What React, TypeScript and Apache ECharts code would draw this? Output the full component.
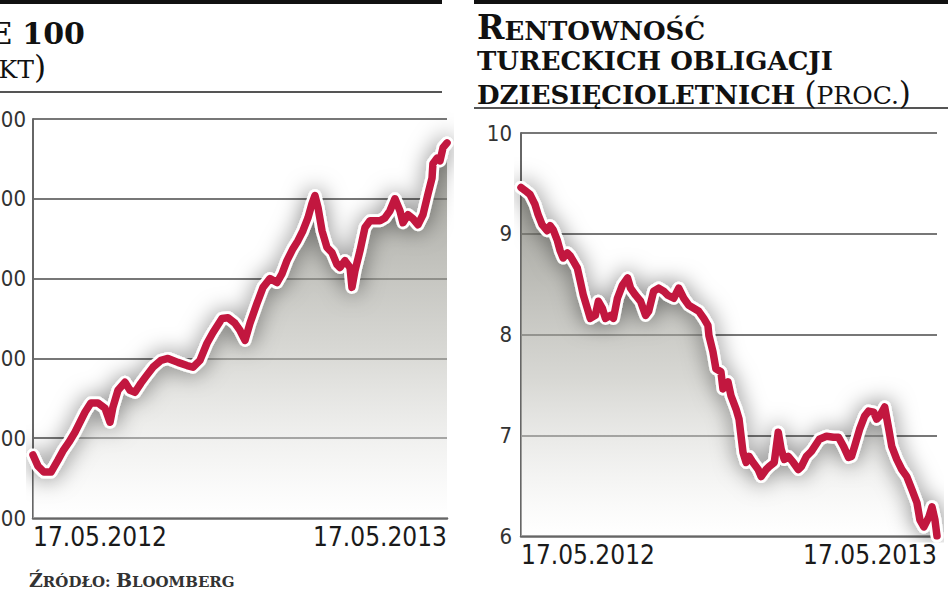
import React, { useEffect, useRef } from 'react';
import * as echarts from 'echarts';

// Page crop: the original is cut on the left, so the chart canvas starts OFFSET px left of the page.
const OFFSET = 60;
const W = 948 + OFFSET;
const H = 593;

const dateTicks = [0, 365];
const dateLabels = ['17.05.2012', '17.05.2013'];

const iseMin = 45000;
const iseMax = 95000;
const iseStep = 10000;

const bondMin = 6;
const bondMax = 10;
const bondStep = 1;

// [days since 17.05.2012, ISE 100 points]
const ise100Points = [
  [0, 52900], [4.4, 51500], [9.7, 50750], [15.9, 50750], [22, 52250], [26.4, 53400], [31.7, 54500],
  [37, 55750], [41.4, 57000], [45.8, 58250], [51, 59400], [57.3, 59400], [63.5, 58750], [67.9, 57000],
  [70.5, 58900], [74.9, 61000], [81.1, 62000], [85.5, 61000], [89.9, 60750], [95.2, 61900], [99.6, 62750],
  [105.8, 63900], [112.8, 64750], [119, 65000], [127.8, 64500], [135.8, 64100], [141, 63900], [147.2, 64750],
  [153.4, 66900], [158.7, 68250], [166.6, 70000], [171.9, 70100], [178.1, 69400], [182.5, 68500], [186.9, 67250],
  [191.3, 69400], [197.5, 71900], [202.8, 73900], [208.9, 75000], [215.1, 74500], [219.5, 75600], [223.9, 77250],
  [229.2, 78750], [233.6, 79750], [238, 81000], [242.4, 82600], [246, 84400], [248.6, 85400], [251.3, 83900],
  [254.8, 81000], [259.2, 78900], [263.6, 78250], [268, 76750], [270.6, 76400], [275, 77250], [279.5, 76400],
  [281.2, 73900], [283.9, 76000], [288.3, 78500], [292.7, 81400], [297.1, 82250], [301.5, 82250], [305.9, 82250],
  [310.3, 82600], [314.7, 83500], [319.1, 85000], [323.5, 83500], [326.2, 82000], [330.6, 83000], [335, 82500],
  [339.4, 81750], [343.8, 83000], [348.2, 85600], [351.8, 87600], [352.6, 89400], [356.2, 90100], [358.8, 89750],
  [361.5, 91400], [365, 92000],
];

// [days since 17.05.2012, yield in %]
const bondYieldPoints = [
  [0, 9.46], [3.5, 9.43], [7.9, 9.39], [12.3, 9.29], [15, 9.19], [18.5, 9.09], [22.9, 9.03], [25.6, 9.08],
  [28.2, 9.04], [31.7, 8.94], [34.4, 8.83], [37, 8.76], [40.6, 8.81], [43.2, 8.78], [45.8, 8.73], [49.4, 8.66],
  [52, 8.53], [54.7, 8.39], [58.2, 8.26], [60.8, 8.16], [65.2, 8.19], [67.9, 8.33], [71.4, 8.26], [74.1, 8.16],
  [78.5, 8.19], [81.1, 8.16], [84.6, 8.36], [89, 8.49], [93.5, 8.56], [96.1, 8.46], [100.5, 8.39], [104.9, 8.33],
  [109.3, 8.19], [112, 8.23], [116.4, 8.43], [120.8, 8.46], [125.2, 8.43], [128.7, 8.39], [134, 8.36], [138.4, 8.46],
  [142.8, 8.36], [147.2, 8.29], [151.6, 8.26], [156, 8.23], [160.4, 8.16], [164, 8.09], [164.9, 7.99], [168.4, 7.83],
  [171, 7.66], [175.4, 7.63], [177.2, 7.46], [181.6, 7.53], [184.3, 7.39], [188.7, 7.26], [191.3, 7.16], [193.1, 6.99],
  [194.8, 6.83], [197.5, 6.73], [200.1, 6.79], [203.6, 6.73], [208.1, 6.66], [210.7, 6.59], [215.1, 6.66], [217.8, 6.69],
  [222.2, 6.73], [225.7, 7.03], [228.3, 6.86], [231, 6.76], [234.5, 6.79], [238.9, 6.73], [243.3, 6.66], [246, 6.69],
  [250.4, 6.79], [254.8, 6.84], [261.8, 6.96], [268, 6.99], [274.2, 6.98], [278.6, 6.98], [283, 6.89], [287.4, 6.78],
  [290, 6.79], [292.7, 6.89], [297.1, 7.06], [301.5, 7.19], [305, 7.24], [309.4, 7.23], [312.1, 7.16], [314.7, 7.19],
  [319.1, 7.28], [322.7, 7.06], [325.3, 6.89], [329.7, 6.76], [334.1, 6.66], [338.5, 6.59], [343, 6.46], [347.4, 6.33],
  [350, 6.16], [353.5, 6.09], [357.9, 6.19], [360.6, 6.29], [363.2, 6.16], [365, 6.0],
];

const SERIF = '"DejaVu Serif", "Liberation Serif", serif';
const NARROW = '"Liberation Sans Narrow", "DejaVu Sans Condensed", "Roboto", sans-serif';
const LINE_RED = '#c2173f';

function areaGradient() {
  return new echarts.graphic.LinearGradient(0, 0, 0, 1, [
    { offset: 0, color: 'rgba(112,112,102,0.95)' },
    { offset: 0.55, color: 'rgba(185,185,178,0.8)' },
    { offset: 1, color: 'rgba(255,255,255,0.5)' },
  ]);
}

function pairSeries(data: number[][], idx: number) {
  return [
    {
      type: 'line',
      xAxisIndex: idx,
      yAxisIndex: idx,
      data,
      showSymbol: false,
      silent: true,
      z: 2,
      lineStyle: {
        color: '#ffffff',
        width: 13,
        join: 'round',
        cap: 'round',
        shadowColor: 'rgba(0,0,0,0.5)',
        shadowBlur: 22,
      },
      areaStyle: { origin: 'start', color: areaGradient() },
    },
    {
      type: 'line',
      xAxisIndex: idx,
      yAxisIndex: idx,
      data,
      showSymbol: false,
      silent: true,
      z: 3,
      lineStyle: { color: LINE_RED, width: 7.5, join: 'round', cap: 'round' },
    },
  ];
}

function xAxisFor(idx: number) {
  return {
    type: 'value',
    gridIndex: idx,
    min: dateTicks[0],
    max: dateTicks[1],
    interval: dateTicks[1] - dateTicks[0],
    axisLine: { show: true, lineStyle: { color: '#666', width: 2.5 } },
    axisTick: { show: false },
    splitLine: { show: false },
    axisLabel: {
      show: true,
      showMinLabel: true,
      showMaxLabel: true,
      alignMinLabel: 'left',
      alignMaxLabel: 'right',
      margin: 6,
      color: '#1a1a1a',
      fontSize: 26,
      fontFamily: NARROW,
      formatter: (v: number) => {
        const i = dateTicks.indexOf(v);
        return i >= 0 ? dateLabels[i] : '';
      },
    },
  };
}

function yAxisFor(idx: number, min: number, max: number, step: number, margin: number, fmt: (v: number) => string) {
  return {
    type: 'value',
    gridIndex: idx,
    min,
    max,
    interval: step,
    axisLine: { show: true, lineStyle: { color: '#666', width: 2 } },
    axisTick: { show: false },
    splitLine: { show: true, lineStyle: { color: '#4a4a4a', width: 1.5 } },
    axisLabel: {
      margin,
      color: '#333',
      fontSize: 22,
      fontFamily: NARROW,
      showMinLabel: true,
      showMaxLabel: true,
      formatter: fmt,
    },
  };
}

function titleText(x: number, y: number, text: string, rich: any, align = 'left') {
  return {
    type: 'text',
    x,
    y,
    silent: true,
    style: {
      text,
      rich,
      align,
      textAlign: align,
      verticalAlign: 'bottom',
      textVerticalAlign: 'bottom',
      fill: '#111',
    },
  };
}

const bigCap = { fontSize: 33, fontFamily: SERIF, fontWeight: 'bold', fill: '#111', verticalAlign: 'bottom' };
const titleCap = { fontSize: 30, fontFamily: SERIF, fontWeight: 'bold', fill: '#111', verticalAlign: 'bottom' };
const smallCap = { fontSize: 26, fontFamily: SERIF, fontWeight: 'bold', fill: '#111', verticalAlign: 'bottom' };
const paren = { fontSize: 31, fontFamily: SERIF, fontWeight: 'normal', fill: '#111', verticalAlign: 'bottom' };
const unitCap = { fontSize: 25, fontFamily: SERIF, fontWeight: 'normal', fill: '#111', verticalAlign: 'bottom' };
const srcBig = { fontSize: 19, fontFamily: SERIF, fontWeight: 'bold', fill: '#333', verticalAlign: 'bottom' };
const srcSmall = { fontSize: 15, fontFamily: SERIF, fontWeight: 'bold', fill: '#333', verticalAlign: 'bottom' };

export default function App() {
  const ref = useRef<HTMLDivElement>(null);

  useEffect(() => {
    if (!ref.current) return;
    const chart = echarts.init(ref.current, undefined, { renderer: 'svg', width: W, height: H });

    const option: any = {
      animation: false,
      backgroundColor: '#ffffff',
      grid: [
        { left: OFFSET + 33, top: 119, width: 414, height: 399 },
        { left: OFFSET + 521, top: 133, width: 416, height: 403 },
      ],
      xAxis: [xAxisFor(0), xAxisFor(1)],
      yAxis: [
        yAxisFor(0, iseMin, iseMax, iseStep, 7, (v: number) => `${Math.round(v / 1000)} 000`),
        yAxisFor(1, bondMin, bondMax, bondStep, 9, (v: number) => `${v}`),
      ],
      series: [...pairSeries(ise100Points, 0), ...pairSeries(bondYieldPoints, 1)],
      graphic: [
        { type: 'rect', silent: true, shape: { x: 0, y: 0, width: OFFSET + 442, height: 4 }, style: { fill: '#111' } },
        { type: 'rect', silent: true, shape: { x: OFFSET + 474, y: 0, width: 474, height: 4 }, style: { fill: '#111' } },
        { type: 'line', silent: true, shape: { x1: 0, y1: 92, x2: OFFSET + 442, y2: 92 }, style: { stroke: '#555', lineWidth: 2 } },
        { type: 'line', silent: true, shape: { x1: OFFSET + 474, y1: 108, x2: W, y2: 108 }, style: { stroke: '#555', lineWidth: 2 } },
        titleText(OFFSET + 85, 48, '{b|ISE 100}', { b: titleCap }, 'right'),
        titleText(OFFSET + 46, 82, '{p|(}{u|PKT}{p|)}', { p: paren, u: unitCap }, 'right'),
        titleText(OFFSET + 477, 44, '{b|R}{s|ENTOWNOŚĆ}', { b: bigCap, s: smallCap }),
        titleText(OFFSET + 477, 74, '{s|TURECKICH OBLIGACJI}', { s: smallCap }),
        titleText(OFFSET + 477, 108, '{s|DZIESIĘCIOLETNICH }{p|(}{u|PROC.}{p|)}', { s: smallCap, p: paren, u: unitCap }),
        titleText(OFFSET + 29, 589, '{b|Ź}{s|RÓDŁO: }{b|B}{s|LOOMBERG}', { b: srcBig, s: srcSmall }),
      ],
    };

    chart.setOption(option);
    return () => chart.dispose();
  }, []);

  return (
    <div
      ref={ref}
      style={{ position: 'absolute', left: -OFFSET, top: 0, width: W, height: H, overflow: 'hidden' }}
    />
  );
}
